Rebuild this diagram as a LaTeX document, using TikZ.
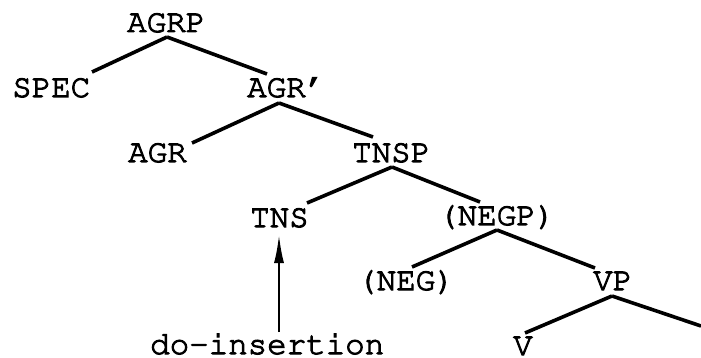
\documentclass[tikz,border=0pt]{standalone}
\usepackage[T1]{fontenc}
\usepackage{courier}
\usetikzlibrary{arrows.meta}
% Courier with a slightly heavier outline
\newcommand\inked[1]{\special{pdf:literal direct 2 Tr 1 w}#1\special{pdf:literal direct 0 Tr}}
\tikzset{
  cat/.style={inner sep=0pt, anchor=base west, font=\ttfamily\fontsize{32.5}{32.5}\selectfont},
  branch/.style={line width=3.6pt, line cap=butt},
  movearrow/.style={line width=2pt, -{Latex[length=28pt,width=10pt]}}
}
\begin{document}
\begin{tikzpicture}[x=1pt,y=-1pt]
\useasboundingbox (0,0) rectangle (701,358);
% category labels, placed by their baselines
\node[cat] (agrp) at (127,32) {\inked{AGRP}};
\node[cat] (spec) at (12,97) {\inked{SPEC}};
\node[cat] (agrbar) at (247,97) {\inked{AGR'}};
\node[cat] (agr) at (128,162) {\inked{AGR}};
\node[cat] (tnsp) at (352,162) {\inked{TNSP}};
\node[cat] (tns) at (250,227) {\inked{TNS}};
\node[cat] (negp) at (438,225) {\inked{(NEGP)}};
\node[cat] (neg) at (357,290) {\inked{(NEG)}};
\node[cat] (vp) at (593,290) {\inked{VP}};
\node[cat] (v) at (513,355) {\inked{V}};
\node[cat] (doins) at (150,354) {\inked{do-insertion}};
\coordinate (vpcomp) at (701,326);
% branches
\draw[branch] ([shift={(40,5)}]agrp.base west) -- ([shift={(80,-25)}]spec.base west);
\draw[branch] ([shift={(40,5)}]agrp.base west) -- ([shift={(20,-23)}]agrbar.base west);
\draw[branch] ([shift={(32,6)}]agrbar.base west) -- ([shift={(64,-19)}]agr.base west);
\draw[branch] ([shift={(32,6)}]agrbar.base west) -- ([shift={(21,-25)}]tnsp.base west);
\draw[branch] ([shift={(40,5)}]tnsp.base west) -- ([shift={(57,-24)}]tns.base west);
\draw[branch] ([shift={(40,5)}]tnsp.base west) -- ([shift={(42,-23)}]negp.base west);
\draw[branch] ([shift={(59,5)}]negp.base west) -- ([shift={(55,-23)}]neg.base west);
\draw[branch] ([shift={(59,5)}]negp.base west) -- ([shift={(2,-22)}]vp.base west);
\draw[branch] ([shift={(19,6)}]vp.base west) -- ([shift={(12,-22)}]v.base west);
\draw[branch] ([shift={(19,6)}]vp.base west) -- (vpcomp);
% movement arrow
\draw[movearrow] ([shift={(129,-22)}]doins.base west) -- ([shift={(29,8)}]tns.base west);
\end{tikzpicture}
\end{document}
